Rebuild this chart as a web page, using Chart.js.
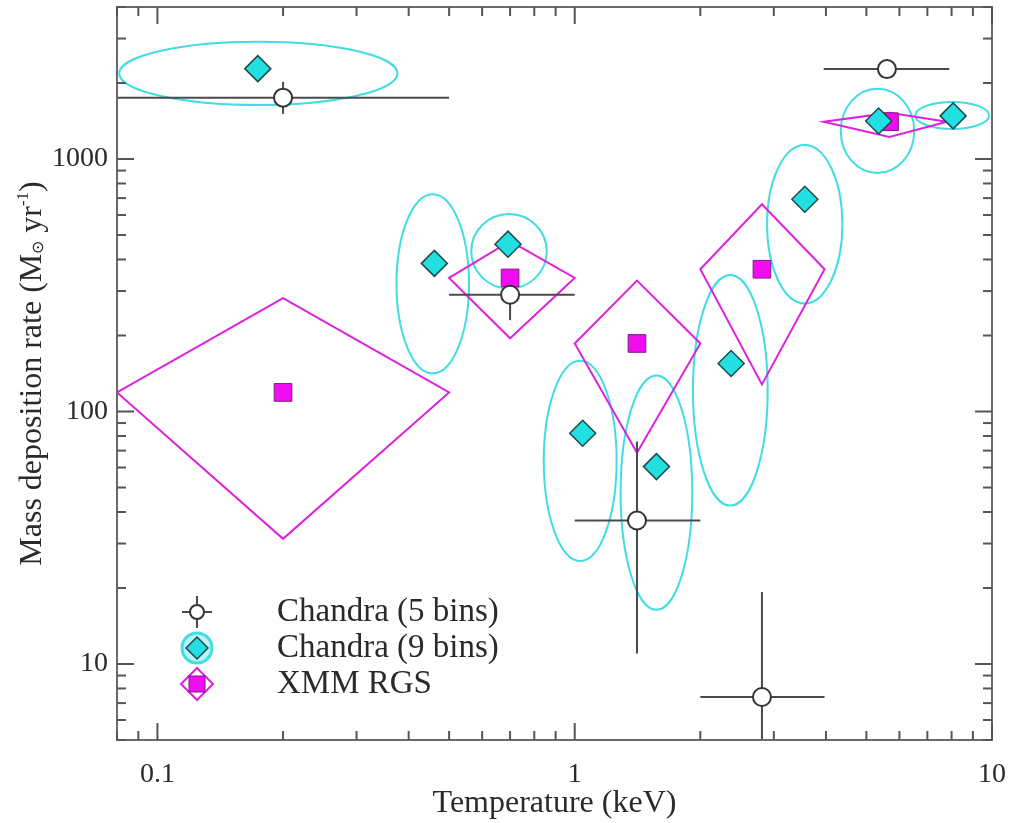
<!DOCTYPE html>
<html lang="en">
<head>
<meta charset="UTF-8">
<title>Mass deposition rate vs temperature</title>
<script src="https://cdn.jsdelivr.net/npm/chart.js"></script>
<style>
    body { margin: 0; background: #fff; }
    #chart_container { width: 1010px; height: 823px; position: relative; }
</style>
</head>
<body>
<div id="chart_container"><canvas id="chart"></canvas></div>
<script>
// Chandra, 5 bins: open circles with error bars (keV, Msun/yr)
const T5 = [0.2, 0.7, 1.41, 2.81, 5.6]
const M5 = [1750, 290, 37, 7.4, 2270]
const T5_LO = [0.05, 0.5, 1.0, 2.0, 3.95]
const T5_HI = [0.5, 1.0, 2.0, 3.97, 7.9]
const M5_LO = [1510, 230, 11, 1, 2270]
const M5_HI = [2020, 350, 76, 19.3, 2270]

// Chandra, 9 bins: diamonds with confidence ellipses
const T9 = [0.174, 0.461, 0.692, 1.045, 1.57, 2.37, 3.56, 5.35, 8.07]
const M9 = [2280, 386, 460, 82, 60.5, 155, 693, 1415, 1482]
const E9_T_LO = [0.081, 0.374, 0.565, 0.843, 1.288, 1.92, 2.89, 4.34, 6.55]
const E9_T_HI = [0.376, 0.558, 0.857, 1.26, 1.913, 2.90, 4.38, 6.51, 9.84]
const E9_M_LO = [1637, 141.6, 307, 25.6, 16.4, 42.4, 268, 880, 1315]
const E9_M_HI = [2912, 726, 605, 159, 139, 347, 1137, 1896, 1683]

// XMM RGS: squares with diamond-shaped error regions
const TX = [0.2, 0.7, 1.41, 2.81, 5.68]
const MX = [119, 338, 186, 366, 1405]
const XT_LO = [0.08, 0.5, 1.0, 2.0, 3.95]
const XT_HI = [0.5, 1.0, 2.0, 3.97, 7.8]
const XM_LO = [31.3, 195, 68.7, 128, 1223]
const XM_HI = [281, 473, 330, 662, 1523]

const X_TICKS = [0.1, 1, 10]
const Y_TICKS = [10, 100, 1000]
const LEGEND_LABELS = ['Chandra (5 bins)', 'Chandra (9 bins)', 'XMM RGS']

const SERIF = '"Liberation Serif", "Times New Roman", serif'
const CYAN_LINE = '#40dde4'
const CYAN_FILL = '#22e0e2'
const DIAMOND_EDGE = '#1d4a4c'
const MAGENTA_LINE = '#dd22dd'
const MAGENTA_FILL = '#f20cf2'
const SQUARE_EDGE = '#7a1e7a'
const BAR = '#4a4a4a'
const TEXT = '#2a2a2a'

function line(ctx, x0, y0, x1, y1) {
    ctx.beginPath()
    ctx.moveTo(x0, y0)
    ctx.lineTo(x1, y1)
    ctx.stroke()
}

function diamond(ctx, cx, cy, r) {
    ctx.beginPath()
    ctx.moveTo(cx - r, cy)
    ctx.lineTo(cx, cy - r)
    ctx.lineTo(cx + r, cy)
    ctx.lineTo(cx, cy + r)
    ctx.closePath()
}

// keep the plot box where the reference has it: no label overhang padding
function noOverhang(s) {
    s.paddingTop = 0
    s.paddingBottom = 0
    s.paddingLeft = 0
    s.paddingRight = 0
}

const extras = {
    id: 'extras',
    beforeDatasetsDraw(chart) {
        const {ctx, chartArea: a, scales: {x, y}} = chart
        ctx.save()
        ctx.beginPath()
        ctx.rect(a.left, a.top, a.right - a.left, a.bottom - a.top)
        ctx.clip()

        // ellipses of the 9 bin fit
        ctx.strokeStyle = CYAN_LINE
        ctx.lineWidth = 2
        T9.forEach((t, i) => {
            const x0 = x.getPixelForValue(E9_T_LO[i]), x1 = x.getPixelForValue(E9_T_HI[i])
            const y0 = y.getPixelForValue(E9_M_HI[i]), y1 = y.getPixelForValue(E9_M_LO[i])
            ctx.beginPath()
            ctx.ellipse((x0 + x1) / 2, (y0 + y1) / 2, (x1 - x0) / 2, (y1 - y0) / 2, 0, 0, Math.PI * 2)
            ctx.stroke()
        })

        // XMM error diamonds
        ctx.strokeStyle = MAGENTA_LINE
        TX.forEach((t, i) => {
            const xc = x.getPixelForValue(t), yc = y.getPixelForValue(MX[i])
            ctx.beginPath()
            ctx.moveTo(x.getPixelForValue(XT_LO[i]), yc)
            ctx.lineTo(xc, y.getPixelForValue(XM_HI[i]))
            ctx.lineTo(x.getPixelForValue(XT_HI[i]), yc)
            ctx.lineTo(xc, y.getPixelForValue(XM_LO[i]))
            ctx.closePath()
            ctx.stroke()
        })

        // 5 bin error bars
        ctx.strokeStyle = BAR
        T5.forEach((t, i) => {
            const xc = x.getPixelForValue(t), yc = y.getPixelForValue(M5[i])
            line(ctx, x.getPixelForValue(T5_LO[i]), yc, x.getPixelForValue(T5_HI[i]), yc)
            line(ctx, xc, y.getPixelForValue(M5_LO[i]), xc, y.getPixelForValue(M5_HI[i]))
        })
        ctx.restore()
    },
    afterDraw(chart) {
        const {ctx, chartArea: a, scales: {x, y}} = chart
        ctx.save()

        // frame and inward ticks on all four sides
        ctx.strokeStyle = '#6a6a6a'
        ctx.lineWidth = 2
        ctx.strokeRect(a.left, a.top, a.right - a.left, a.bottom - a.top)
        ctx.strokeStyle = '#555'
        for (let d = -2; d <= 1; d++) {
            for (let k = 1; k <= 9; k++) {
                const v = k * Math.pow(10, d)
                if (v < x.min || v > x.max) continue
                const p = x.getPixelForValue(v), len = k === 1 ? 17 : 9
                line(ctx, p, a.bottom, p, a.bottom - len)
                line(ctx, p, a.top, p, a.top + len)
            }
        }
        for (let d = 0; d <= 3; d++) {
            for (let k = 1; k <= 9; k++) {
                const v = k * Math.pow(10, d)
                if (v < y.min || v > y.max) continue
                const p = y.getPixelForValue(v), len = k === 1 ? 17 : 9
                line(ctx, a.left, p, a.left + len, p)
                line(ctx, a.right, p, a.right - len, p)
            }
        }

        // y axis title with sun symbol and superscript
        ctx.fillStyle = TEXT
        ctx.textBaseline = 'alphabetic'
        ctx.textAlign = 'left'
        const parts = [
            {t: 'Mass deposition rate (M', f: 32, dy: 0},
            {t: '\u2299', f: 16, dy: 2},
            {t: ' yr', f: 32, dy: 0},
            {t: '-1', f: 17, dy: -13},
            {t: ')', f: 32, dy: 0}
        ]
        let w = 0
        parts.forEach(p => { ctx.font = p.f + 'px ' + SERIF; p.w = ctx.measureText(p.t).width; w += p.w })
        ctx.translate(41, (a.top + a.bottom) / 2)
        ctx.rotate(-Math.PI / 2)
        let cx = -w / 2
        parts.forEach(p => {
            ctx.font = p.f + 'px ' + SERIF
            ctx.fillText(p.t, cx, p.dy)
            cx += p.w
        })
        ctx.setTransform(1, 0, 0, 1, 0, 0)

        // legend
        const lx = 197, ly = [612, 648, 684]
        ctx.lineWidth = 2
        ctx.strokeStyle = BAR
        line(ctx, lx - 15, ly[0], lx + 15, ly[0])
        line(ctx, lx, ly[0] - 16, lx, ly[0] + 16)
        ctx.beginPath()
        ctx.arc(lx, ly[0], 7, 0, Math.PI * 2)
        ctx.fillStyle = '#fff'
        ctx.fill()
        ctx.strokeStyle = '#333'
        ctx.stroke()

        ctx.beginPath()
        ctx.arc(lx, ly[1], 15, 0, Math.PI * 2)
        ctx.fillStyle = 'rgba(64, 221, 228, 0.35)'
        ctx.fill()
        ctx.lineWidth = 3
        ctx.strokeStyle = CYAN_LINE
        ctx.stroke()
        diamond(ctx, lx, ly[1], 11)
        ctx.fillStyle = CYAN_FILL
        ctx.fill()
        ctx.lineWidth = 1.5
        ctx.strokeStyle = DIAMOND_EDGE
        ctx.stroke()

        diamond(ctx, lx, ly[2], 16)
        ctx.lineWidth = 2
        ctx.strokeStyle = MAGENTA_LINE
        ctx.stroke()
        ctx.fillStyle = MAGENTA_FILL
        ctx.fillRect(lx - 8, ly[2] - 8, 16, 16)
        ctx.lineWidth = 1
        ctx.strokeStyle = SQUARE_EDGE
        ctx.strokeRect(lx - 8, ly[2] - 8, 16, 16)

        ctx.fillStyle = TEXT
        ctx.font = '33px ' + SERIF
        ctx.textBaseline = 'middle'
        LEGEND_LABELS.forEach((s, i) => ctx.fillText(s, 277, ly[i]))
        ctx.restore()
    }
}

const ctx = document.getElementById('chart').getContext('2d')
new Chart(ctx, {
    type: 'scatter',
    data: {
        datasets: [
            {
                label: LEGEND_LABELS[1],
                data: T9.map((t, i) => ({x: t, y: M9[i]})),
                pointStyle: 'rectRot',
                radius: 13,
                backgroundColor: CYAN_FILL,
                borderColor: DIAMOND_EDGE,
                borderWidth: 1.5
            },
            {
                label: LEGEND_LABELS[0],
                data: T5.map((t, i) => ({x: t, y: M5[i]})),
                pointStyle: 'circle',
                radius: 9,
                backgroundColor: '#fff',
                borderColor: '#333',
                borderWidth: 2
            },
            {
                label: LEGEND_LABELS[2],
                data: TX.map((t, i) => ({x: t, y: MX[i]})),
                pointStyle: 'rect',
                radius: 12.5,
                backgroundColor: MAGENTA_FILL,
                borderColor: SQUARE_EDGE,
                borderWidth: 1
            }
        ]
    },
    options: {
        responsive: true,
        maintainAspectRatio: false,
        animation: false,
        events: [],
        layout: { autoPadding: false, padding: { top: 7, right: 18, left: 0, bottom: 0 } },
        plugins: { legend: { display: false }, tooltip: { enabled: false } },
        scales: {
            x: {
                type: 'logarithmic',
                min: 0.08,
                max: 10,
                grid: { display: false },
                border: { display: false },
                afterBuildTicks: s => { s.ticks = X_TICKS.map(v => ({value: v})) },
                afterFit: s => { s.height = 83; noOverhang(s) },
                ticks: {
                    autoSkip: false,
                    maxRotation: 0,
                    padding: 10,
                    color: TEXT,
                    font: { family: SERIF, size: 28 },
                    callback: v => String(v)
                },
                title: {
                    display: true,
                    text: 'Temperature (keV)',
                    color: TEXT,
                    font: { family: SERIF, size: 32 },
                    padding: { top: 0, bottom: 0 }
                }
            },
            y: {
                type: 'logarithmic',
                min: 5,
                max: 4000,
                grid: { display: false },
                border: { display: false },
                afterBuildTicks: s => { s.ticks = Y_TICKS.map(v => ({value: v})) },
                afterFit: s => { s.width = 117; noOverhang(s) },
                ticks: {
                    autoSkip: false,
                    padding: 1,
                    color: TEXT,
                    font: { family: SERIF, size: 28 },
                    callback: v => String(v)
                }
            }
        }
    },
    plugins: [extras]
})
</script>
</body>
</html>
